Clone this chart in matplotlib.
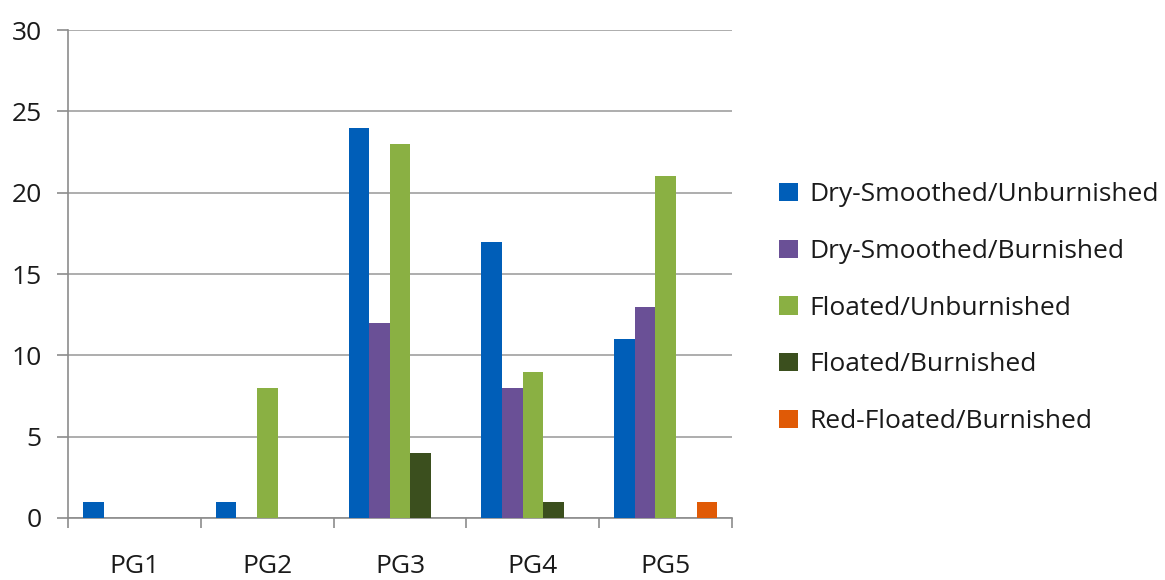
import numpy as np
import matplotlib
matplotlib.use("Agg")
import matplotlib.pyplot as plt

plt.rcParams['font.family'] = ['Open Sans', 'DejaVu Sans']

categories = ['PG1', 'PG2', 'PG3', 'PG4', 'PG5']
series_names = ['Dry-Smoothed/Unburnished', 'Dry-Smoothed/Burnished',
                'Floated/Unburnished', 'Floated/Burnished',
                'Red-Floated/Burnished']
dry_unburn = [1, 1, 24, 17, 11]
dry_burn = [0, 0, 12, 8, 13]
float_unburn = [0, 8, 23, 9, 21]
float_burn = [0, 0, 4, 1, 0]
red_float_burn = [0, 0, 0, 0, 1]
colors = ['#005EB8', '#6A5096', '#8AB043', '#3B4F1E', '#E05A06']

series = [dry_unburn, dry_burn, float_unburn, float_burn, red_float_burn]

fig = plt.figure(figsize=(11.65, 5.8), dpi=100)
ax = fig.add_axes([0.0584, 0.107, 0.5700, 0.841])

x = np.arange(len(categories))
bw = 0.155
for i, (vals, name, c) in enumerate(zip(series, series_names, colors)):
    ax.bar(x + (i - 2) * bw, vals, width=bw, color=c, label=name, zorder=3)

ax.set_xlim(-0.5, 4.5)
ax.set_ylim(0, 30)
ax.set_yticks(range(0, 31, 5))
ax.yaxis.grid(True, color='#a0a0a0', linewidth=1.2, zorder=0)

# category boundary ticks
ax.set_xticks(np.arange(-0.5, 5.0, 1.0))
ax.set_xticklabels([])
ax.set_xticks(x, minor=True)
ax.set_xticklabels(categories, minor=True)
ax.tick_params(axis='x', which='major', length=7, width=1.2, color='#8c8c8c', direction='out')
ax.tick_params(axis='x', which='minor', length=0, pad=26, labelsize=19, labelcolor='#1a1a1a')
ax.tick_params(axis='y', length=8, width=1.2, color='#8c8c8c', labelsize=19, pad=11, labelcolor='#1a1a1a')

for s in ['top', 'right']:
    ax.spines[s].set_visible(False)
for s in ['left', 'bottom']:
    ax.spines[s].set_color('#8c8c8c')
    ax.spines[s].set_linewidth(1.2)

leg = ax.legend(loc='center left', bbox_to_anchor=(1.035, 0.43), frameon=False,
                fontsize=19, handlelength=0.7, handleheight=0.7,
                handletextpad=0.45, labelspacing=1.2, labelcolor='#1a1a1a')

fig.savefig('out.png', dpi=100)
